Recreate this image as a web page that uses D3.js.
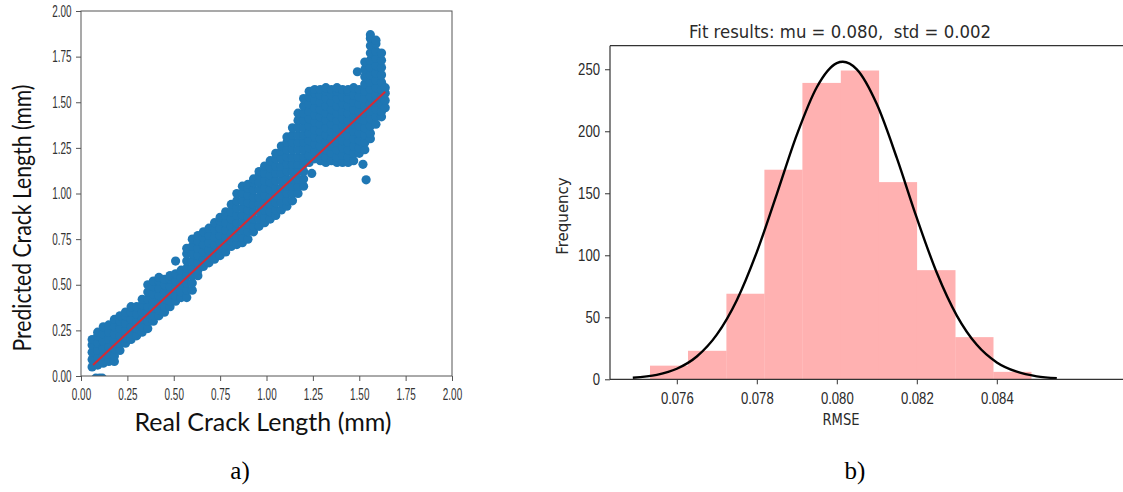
<!DOCTYPE html>
<html>
<head>
<meta charset="utf-8">
<script src="https://cdn.jsdelivr.net/npm/d3@7"></script>
<style>
  body { margin: 0; background: #fff; }
  svg { display: block; }
</style>
</head>
<body>
<div id="chart"></div>
<script>
// ---- a) predicted vs real crack length (read off the picture) ----
const realLength = [0.06, 0.09, 0.12, 0.15, 0.18, 0.21, 0.24, 0.27, 0.30, 0.33,
    0.36, 0.39, 0.42, 0.45, 0.48, 0.51, 0.54, 0.57, 0.60, 0.63,
    0.66, 0.69, 0.72, 0.75, 0.78, 0.81, 0.84, 0.87, 0.90, 0.93,
    0.96, 0.99, 1.02, 1.05, 1.08, 1.11, 1.14, 1.17, 1.20, 1.23,
    1.26, 1.29, 1.32, 1.35, 1.38, 1.41, 1.44, 1.47, 1.50, 1.53,
    1.56, 1.59, 1.62, 1.64];
const predictedLength = [
    [0.05, 0.09, 0.13, 0.17, 0.20],
    [0.06, 0.10, 0.14, 0.18, 0.22, 0.24],
    [0.07, 0.11, 0.15, 0.19, 0.23, 0.27],
    [0.08, 0.12, 0.16, 0.20, 0.24, 0.28],
    [0.08, 0.11, 0.15, 0.19, 0.23, 0.27, 0.31],
    [0.14, 0.18, 0.22, 0.26, 0.30, 0.33],
    [0.18, 0.21, 0.25, 0.29, 0.33, 0.35],
    [0.20, 0.23, 0.27, 0.31, 0.35, 0.38],
    [0.22, 0.26, 0.30, 0.34, 0.38],
    [0.24, 0.27, 0.31, 0.35, 0.39, 0.42],
    [0.26, 0.30, 0.34, 0.38, 0.42, 0.46, 0.50],
    [0.30, 0.33, 0.37, 0.41, 0.45, 0.49, 0.52],
    [0.33, 0.36, 0.40, 0.44, 0.48, 0.52, 0.54],
    [0.35, 0.38, 0.42, 0.46, 0.50, 0.53],
    [0.38, 0.41, 0.45, 0.49, 0.53, 0.55],
    [0.41, 0.44, 0.48, 0.52, 0.56, 0.63],
    [0.43, 0.46, 0.50, 0.54, 0.58],
    [0.43, 0.47, 0.51, 0.55, 0.59, 0.63, 0.67, 0.70],
    [0.47, 0.51, 0.55, 0.59, 0.63, 0.67, 0.71, 0.75],
    [0.55, 0.58, 0.62, 0.66, 0.70, 0.74, 0.77],
    [0.60, 0.64, 0.68, 0.72, 0.76, 0.79],
    [0.62, 0.65, 0.69, 0.73, 0.77, 0.81],
    [0.64, 0.68, 0.72, 0.76, 0.80, 0.84],
    [0.66, 0.69, 0.73, 0.77, 0.81, 0.85, 0.87],
    [0.68, 0.72, 0.76, 0.80, 0.84, 0.88, 0.90],
    [0.71, 0.74, 0.78, 0.82, 0.86, 0.90, 0.94],
    [0.72, 0.76, 0.80, 0.84, 0.88, 0.92, 0.96, 1.00],
    [0.73, 0.76, 0.80, 0.84, 0.88, 0.92, 0.96, 1.00, 1.04],
    [0.75, 0.79, 0.83, 0.87, 0.91, 0.95, 0.99, 1.03, 1.05],
    [0.79, 0.82, 0.86, 0.90, 0.94, 0.98, 1.02, 1.06, 1.08],
    [0.82, 0.86, 0.90, 0.94, 0.98, 1.02, 1.06, 1.10, 1.12],
    [0.84, 0.87, 0.91, 0.95, 0.99, 1.03, 1.07, 1.11, 1.15],
    [0.86, 0.90, 0.94, 0.98, 1.02, 1.06, 1.10, 1.14, 1.18],
    [0.88, 0.91, 0.95, 0.99, 1.03, 1.07, 1.11, 1.15, 1.19, 1.22],
    [0.91, 0.95, 0.99, 1.03, 1.07, 1.11, 1.15, 1.19, 1.23, 1.26],
    [0.93, 0.96, 1.00, 1.04, 1.08, 1.12, 1.16, 1.20, 1.24, 1.28, 1.31],
    [0.96, 1.00, 1.04, 1.08, 1.12, 1.16, 1.20, 1.24, 1.28, 1.32, 1.36],
    [1.00, 1.04, 1.08, 1.12, 1.16, 1.20, 1.24, 1.28, 1.32, 1.36, 1.40, 1.44],
    [1.04, 1.08, 1.12, 1.16, 1.20, 1.24, 1.28, 1.32, 1.36, 1.40, 1.44, 1.48, 1.52],
    [1.17, 1.21, 1.25, 1.29, 1.33, 1.37, 1.41, 1.45, 1.49, 1.53, 1.56],
    [1.19, 1.23, 1.27, 1.31, 1.35, 1.39, 1.43, 1.47, 1.51, 1.55, 1.57],
    [1.18, 1.22, 1.26, 1.30, 1.34, 1.38, 1.42, 1.46, 1.50, 1.54, 1.57],
    [1.17, 1.20, 1.24, 1.28, 1.32, 1.36, 1.40, 1.44, 1.48, 1.52, 1.56, 1.58],
    [1.18, 1.22, 1.26, 1.30, 1.34, 1.38, 1.42, 1.46, 1.50, 1.54, 1.57],
    [1.17, 1.20, 1.24, 1.28, 1.32, 1.36, 1.40, 1.44, 1.48, 1.52, 1.56, 1.58],
    [1.17, 1.21, 1.25, 1.29, 1.33, 1.37, 1.41, 1.45, 1.49, 1.53, 1.57],
    [1.17, 1.20, 1.24, 1.28, 1.32, 1.36, 1.40, 1.44, 1.48, 1.52, 1.56, 1.57],
    [1.18, 1.22, 1.26, 1.30, 1.34, 1.38, 1.42, 1.46, 1.50, 1.54, 1.58],
    [1.22, 1.25, 1.29, 1.33, 1.37, 1.41, 1.45, 1.49, 1.53, 1.57],
    [1.24, 1.28, 1.32, 1.36, 1.40, 1.44, 1.48, 1.52, 1.56, 1.60, 1.64, 1.68, 1.72],
    [1.30, 1.33, 1.37, 1.41, 1.45, 1.49, 1.53, 1.57, 1.61, 1.65, 1.69, 1.73, 1.77, 1.81, 1.85, 1.87],
    [1.38, 1.42, 1.46, 1.50, 1.54, 1.58, 1.62, 1.66, 1.70, 1.74, 1.78, 1.82, 1.84],
    [1.42, 1.45, 1.49, 1.53, 1.57, 1.61, 1.65, 1.69, 1.73, 1.77],
    [1.47, 1.51, 1.55, 1.58]
];
const outlierReal = [1.49, 1.244, 1.52, 1.537, 0.08, 0.10, 0.115];
const outlierPred = [1.667, 1.11, 1.16, 1.075, -0.012, -0.012, -0.012];
const fitLineReal = [0.065, 1.64];
const fitLinePred = [0.06, 1.558];
const crackTicks = [0, 0.25, 0.5, 0.75, 1.0, 1.25, 1.5, 1.75, 2.0];

// ---- b) RMSE histogram with normal fit ----
const binEdges = [0.07533, 0.07628, 0.07724, 0.07819, 0.07914, 0.08010,
    0.08105, 0.08200, 0.08296, 0.08391, 0.08486];
const binCounts = [11, 23, 69, 169, 239, 249, 159, 88, 34, 6];
const fitX = [0.0749, 0.0755, 0.0760, 0.0765, 0.0770, 0.0775, 0.0780, 0.0785,
    0.0790, 0.0795, 0.0800, 0.08015, 0.0805, 0.0810, 0.0815, 0.0820, 0.0825,
    0.0830, 0.0835, 0.0840, 0.0845, 0.0850, 0.0855];
const fitY = [1.3, 3.6, 8.5, 18.4, 36.0, 63.8, 102.6, 149.4, 197.1, 235.5, 254.9,
    256.0, 249.9, 221.9, 178.5, 130.1, 85.9, 51.4, 27.8, 13.6, 6.1, 2.4, 0.9];
const rmseTicks = [0.076, 0.078, 0.080, 0.082, 0.084];
const freqTicks = [0, 50, 100, 150, 200, 250];

const W = 1123, H = 492;

let svg = d3.select("#chart")
    .append("svg")
    .attr("width", W)
    .attr("height", H)
    .style("font-family", "'DejaVu Sans', sans-serif");

svg.append("rect").attr("width", W).attr("height", H).attr("fill", "#fff");

function scatter_plot() {
    let x = d3.scaleLinear().domain([0, 2]).range([81, 452]);
    let y = d3.scaleLinear().domain([0, 2]).range([376, 11]);
    let sx = 0.62;

    svg.append("clipPath").attr("id", "clipA")
        .append("rect")
        .attr("x", 81).attr("y", 11)
        .attr("width", 371).attr("height", 365);

    let pts = [];
    realLength.forEach(function (r, i) {
        predictedLength[i].forEach(function (p) { pts.push([r, p]); });
    });
    outlierReal.forEach(function (r, i) { pts.push([r, outlierPred[i]]); });

    svg.append("g")
        .attr("clip-path", "url(#clipA)")
        .selectAll("circle")
        .data(pts)
        .enter()
        .append("circle")
        .attr("cx", d => x(d[0]))
        .attr("cy", d => y(d[1]))
        .attr("r", 4.6)
        .style("fill", "#1f77b4");

    svg.append("line")
        .attr("x1", x(fitLineReal[0])).attr("y1", y(fitLinePred[0]))
        .attr("x2", x(fitLineReal[1])).attr("y2", y(fitLinePred[1]))
        .attr("stroke", "#d42a34")
        .attr("stroke-width", 2);

    // frame
    svg.append("rect")
        .attr("x", 81).attr("y", 11)
        .attr("width", 371).attr("height", 365)
        .attr("fill", "none")
        .attr("stroke", "#555")
        .attr("stroke-width", 1);

    let fmt = d3.format(".2f");
    svg.append("g")
        .attr("transform", "translate(0,376)")
        .call(d3.axisBottom(x).tickValues(crackTicks).tickFormat(fmt).tickSize(5).tickSizeOuter(0))
        .call(g => g.select(".domain").remove())
        .call(g => g.selectAll("line").attr("stroke", "#555"))
        .call(g => g.selectAll("text")
            .attr("y", 13).attr("fill", "#333")
            .style("font-size", "16px")
            .attr("transform", "scale(" + sx + ",1)"));

    svg.append("g")
        .attr("transform", "translate(81,0)")
        .call(d3.axisLeft(y).tickValues(crackTicks).tickFormat(fmt).tickSize(5).tickSizeOuter(0))
        .call(g => g.select(".domain").remove())
        .call(g => g.selectAll("line").attr("stroke", "#555"))
        .call(g => g.selectAll("text")
            .attr("x", -9.5 / sx).attr("fill", "#333")
            .style("font-size", "16px")
            .attr("transform", "scale(" + sx + ",1)"));

    svg.append("text")
        .attr("x", 263).attr("y", 431)
        .attr("text-anchor", "middle")
        .attr("textLength", 257).attr("lengthAdjust", "spacingAndGlyphs")
        .style("font-family", "Lato, 'Open Sans', sans-serif")
        .style("font-size", "25px")
        .attr("fill", "#111")
        .text("Real Crack Length (mm)");

    svg.append("text")
        .attr("transform", "translate(31,218) rotate(-90)")
        .attr("text-anchor", "middle")
        .attr("textLength", 267).attr("lengthAdjust", "spacingAndGlyphs")
        .style("font-family", "Lato, 'Open Sans', sans-serif")
        .style("font-size", "25px")
        .attr("fill", "#111")
        .text("Predicted Crack Length (mm)");
}

function histogram_plot() {
    let x = d3.scaleLinear().domain([0.07433, 0.08600]).range([610, 1076.8]);
    let y = d3.scaleLinear().domain([0, 269]).range([379.3, 45.7]);
    let sx = 0.82;

    svg.append("g")
        .selectAll("rect")
        .data(binCounts)
        .enter()
        .append("rect")
        .attr("x", (d, i) => x(binEdges[i]))
        .attr("width", (d, i) => x(binEdges[i + 1]) - x(binEdges[i]) + 0.3)
        .attr("y", d => y(d))
        .attr("height", d => y(0) - y(d))
        .style("fill", "#ffb1b1");

    let line = d3.line()
        .x((d, i) => x(fitX[i]))
        .y(d => y(d))
        .curve(d3.curveMonotoneX);

    svg.append("path")
        .datum(fitY)
        .attr("d", line)
        .attr("fill", "none")
        .attr("stroke", "#000")
        .attr("stroke-width", 2.4);

    // spines: left, top and bottom (right side is cut off in the figure)
    let frame = svg.append("g").attr("stroke", "#333").attr("stroke-width", 1.2);
    frame.append("line").attr("x1", 610).attr("x2", 610).attr("y1", 45.7).attr("y2", 379.3);
    frame.append("line").attr("x1", 610).attr("x2", W).attr("y1", 45.7).attr("y2", 45.7);

    svg.append("g")
        .attr("transform", "translate(0,379.3)")
        .call(d3.axisBottom(x).tickValues(rmseTicks).tickFormat(d3.format(".3f")).tickSize(5).tickSizeOuter(0))
        .call(g => g.select(".domain").attr("d", "M610,0H" + W).attr("stroke", "#333").attr("stroke-width", 1.2))
        .call(g => g.selectAll(".tick line").attr("stroke", "#333"))
        .call(g => g.selectAll("text")
            .attr("y", 13).attr("fill", "#2a2a2a")
            .style("font-size", "16px")
            .attr("transform", "scale(" + sx + ",1)"));

    svg.append("g")
        .attr("transform", "translate(610,0)")
        .call(d3.axisLeft(y).tickValues(freqTicks).tickSize(5).tickSizeOuter(0))
        .call(g => g.select(".domain").remove())
        .call(g => g.selectAll("line").attr("stroke", "#333"))
        .call(g => g.selectAll("text")
            .attr("x", -10 / sx).attr("fill", "#2a2a2a")
            .style("font-size", "16px")
            .attr("transform", "scale(" + sx + ",1)"));

    svg.append("text")
        .attr("x", 840).attr("y", 37.5)
        .attr("text-anchor", "middle")
        .attr("textLength", 302).attr("lengthAdjust", "spacingAndGlyphs")
        .style("font-size", "17px")
        .style("white-space", "pre")
        .attr("fill", "#2a2a2a")
        .text("Fit results: mu = 0.080,  std = 0.002");

    svg.append("text")
        .attr("x", 841).attr("y", 425)
        .attr("text-anchor", "middle")
        .attr("transform", "translate(841,0) scale(" + sx + ",1) translate(-841,0)")
        .style("font-size", "16px")
        .attr("fill", "#2a2a2a")
        .text("RMSE");

    svg.append("text")
        .attr("transform", "translate(568,216) rotate(-90)")
        .attr("text-anchor", "middle")
        .style("font-size", "15px")
        .attr("fill", "#2a2a2a")
        .text("Frequency");
}

scatter_plot();
histogram_plot();

// panel captions
svg.append("g")
    .style("font-family", "'Liberation Serif', 'Times New Roman', serif")
    .style("font-size", "25px")
    .attr("fill", "#000")
    .selectAll("text")
    .data([["a)", 240], ["b)", 855]])
    .enter()
    .append("text")
    .attr("x", d => d[1])
    .attr("y", 479)
    .attr("text-anchor", "middle")
    .text(d => d[0]);
</script>
</body>
</html>
